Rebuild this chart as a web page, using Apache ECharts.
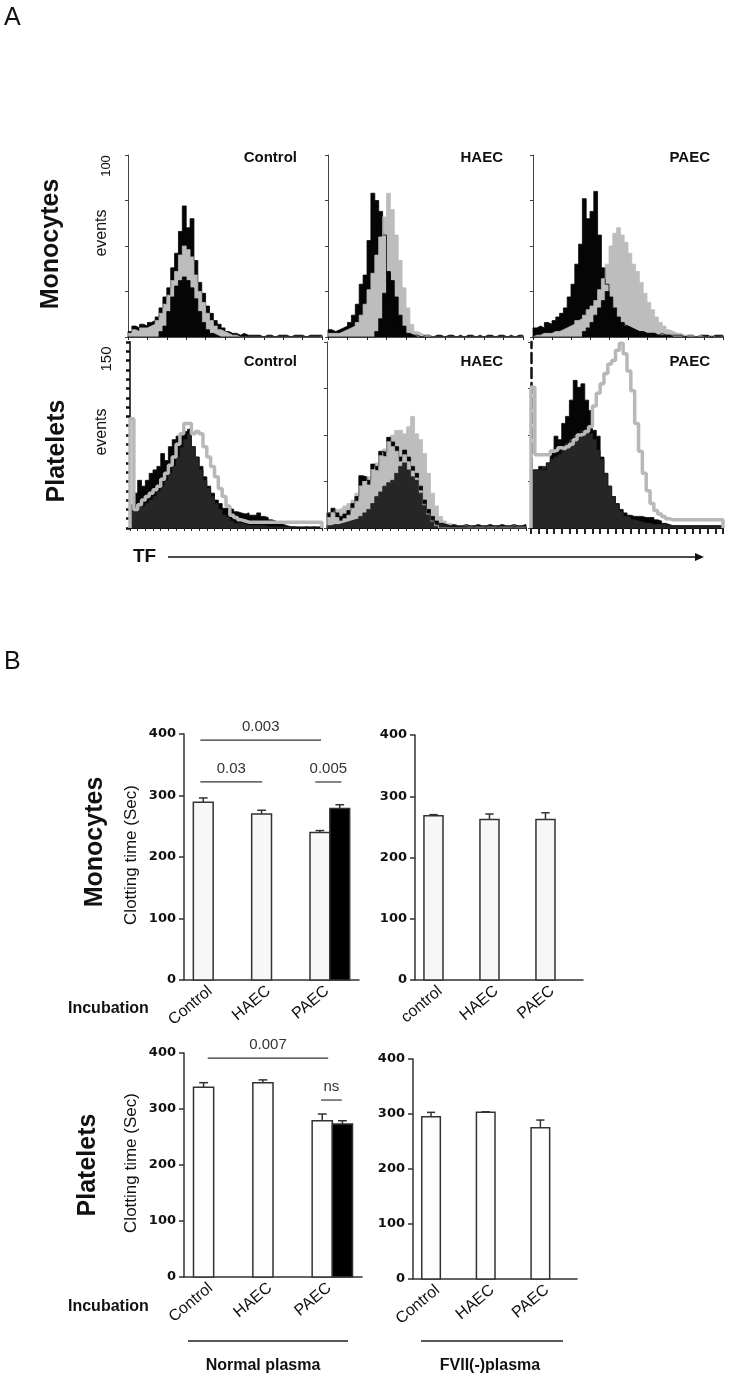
<!DOCTYPE html>
<html><head><meta charset="utf-8">
<script src="https://cdn.jsdelivr.net/npm/echarts@6/dist/echarts.min.js"></script>
<style>html,body{margin:0;padding:0;background:#fff}#c{width:750px;height:1383px}</style>
</head><body><div id="c"></div>
<script>
// ---------- Panel A: flow cytometry histograms (50 bins, events) ----------
const MONO_CTRL_BLACK = [3,6,5,7,6,8,9,11,16,22, 27,38,46,58,72,60,65,42,30,24, 17,13,9,7,5,3,2,2,1,2, 1,1,1,1,0,1,1,0,1,1, 1,0,1,1,1,0,1,1,1,1];
const MONO_CTRL_GRAY  = [2,4,3,5,5,6,7,9,13,18, 23,31,36,45,50,48,44,34,25,19, 13,9,6,4,3,2,1,1,0,0, 0,0,0,0,0,0,0,0,0,0, 0,0,0,0,0,0,0,0,0,0];
const MONO_CTRL_INNER = [0,0,0,0,0,0,0,0,3,6, 14,22,28,31,33,31,27,21,14,8, 4,2,1,0,0,0,0,0,0,0, 0,0,0,0,0,0,0,0,0,0, 0,0,0,0,0,0,0,0,0,0];

const MONO_HAEC_BLACK = [4,3,4,5,6,8,12,18,29,34, 53,79,75,69,56,35,18,8,4,2, 1,1,1,0,1,1,0,1,1,0, 1,1,0,1,0,1,1,0,1,0, 1,1,0,1,1,0,1,0,1,1];
const MONO_HAEC_GRAY  = [2,2,2,3,4,5,6,8,12,18, 26,35,45,55,66,79,70,56,42,27, 16,7,3,2,1,1,0,0,0,0, 0,0,0,0,0,0,0,0,0,0, 0,0,0,0,0,0,0,0,0,0];
const MONO_HAEC_INNER = [0,0,0,0,0,0,0,0,0,0, 0,0,3,10,24,36,31,22,12,6, 2,1,0,0,0,0,0,0,0,0, 0,0,0,0,0,0,0,0,0,0, 0,0,0,0,0,0,0,0,0,0];

const MONO_PAEC_BLACK = [5,6,5,8,7,9,11,13,16,22, 29,40,51,76,65,69,80,56,38,29, 15,10,8,7,6,5,4,3,3,2, 2,2,1,2,1,1,1,1,1,0, 1,1,0,1,1,1,0,1,1,1];
const MONO_PAEC_GRAY  = [1,1,2,2,2,3,3,4,5,6, 7,9,10,12,15,17,20,26,32,40, 50,57,60,56,52,46,40,36,30,24, 19,15,11,8,6,4,3,2,2,1, 1,1,0,1,0,0,1,0,0,0];
const MONO_PAEC_INNER = [0,0,0,0,0,0,0,0,0,0, 0,0,0,3,5,8,12,16,20,25, 22,16,11,8,6,5,4,3,3,2, 2,2,1,1,1,1,0,0,0,0, 0,0,0,0,0,0,0,0,0,0];

const PLT_CTRL_BLACK = [20,30,41,36,41,47,50,53,64,58, 70,76,79,81,83,85,70,61,53,44, 36,30,24,21,17,17,16,14,13,12, 13,11,11,13,10,9,7,6,4,3, 2,1,1,0,0,1,0,1,0,0];
const PLT_CTRL_DARK  = [17,17,18,19,21,24,27,31,36,41, 47,53,61,69,76,81,70,61,50,41, 34,27,21,16,11,9,6,4,4,3, 2,2,2,2,2,1,1,1,1,1, 1,1,1,1,1,1,1,1,1,1];
const PLT_CTRL_GRAY  = [94,16,20,24,27,30,33,36,42,47, 54,61,72,81,90,90,81,83,81,70, 61,53,44,34,27,19,11,9,7,6, 5,5,5,5,5,5,5,5,5,5, 5,5,5,5,5,5,5,5,5,5];

const PLT_HAEC_BLACK = [13,17,13,10,12,15,21,27,45,44, 41,55,53,66,65,78,74,70,61,67, 61,53,47,36,24,16,10,6,4,3, 2,3,2,2,3,2,2,3,2,2, 3,2,2,3,2,2,3,2,2,3];
const PLT_HAEC_GRAY  = [13,14,16,17,19,21,24,30,36,40, 44,50,56,62,68,74,80,84,84,81, 87,96,81,76,64,47,30,19,10,6, 4,3,2,2,2,1,2,1,1,2, 1,1,2,1,1,1,2,1,1,1];
const PLT_HAEC_DARK  = [2,3,3,4,5,6,7,8,10,13, 16,21,27,31,36,39,41,47,53,56, 50,44,41,30,21,13,7,4,3,2, 1,1,1,1,1,1,1,1,1,1, 1,1,1,1,1,1,1,1,1,1];

const PLT_PAEC_BLACK = [50,50,53,50,56,67,79,76,90,96, 110,127,121,124,110,101,84,79,61,47, 36,27,21,16,13,11,10,10,10,9, 9,9,7,6,4,3,2,2,2,2, 2,2,2,2,2,2,2,2,2,2];
const PLT_PAEC_DARK  = [50,50,50,53,56,59,61,63,70,73, 76,79,81,84,83,81,76,67,59,47, 36,27,20,14,10,9,7,6,5,4, 4,3,3,3,3,2,2,2,2,2, 2,2,2,2,2,2,2,2,2,2];
const PLT_PAEC_GRAY  = [121,63,63,63,63,66,67,69,68,70, 72,76,80,81,83,87,105,116,124,133, 141,144,153,159,150,135,118,90,66,47, 32,21,15,12,10,8,7,7,7,7, 7,7,7,7,7,7,7,7,7,7];

const HIST_TITLES = ['Control', 'HAEC', 'PAEC'];

// ---------- Panel B: clotting time (Sec) ----------
const CATS_NORMAL = ['Control', 'HAEC', 'PAEC'];
const CATS_MONO_FVII = ['control', 'HAEC', 'PAEC'];
const CATS_PLT_FVII = ['Control', 'HAEC', 'PAEC'];
const Y_TICKS = [0, 100, 200, 300, 400];

const MONO_NORMAL = [289, 270, 240];
const MONO_NORMAL_ERR = [7, 6, 3];
const MONO_NORMAL_EXTRA = [279];      // black bar beside PAEC
const MONO_NORMAL_EXTRA_ERR = [6];
const MONO_FVII = [268, 262, 262];
const MONO_FVII_ERR = [2, 9, 11];

const PLT_NORMAL = [339, 347, 279];
const PLT_NORMAL_ERR = [8, 5, 12];
const PLT_NORMAL_EXTRA = [273];
const PLT_NORMAL_EXTRA_ERR = [6];
const PLT_FVII = [295, 303, 275];
const PLT_FVII_ERR = [8, 1, 14];

const EXTRA_CAT = 'PAEC';
// significance brackets: [from, to, level]
const SIG_MONO = [[-0.05, 2.02, 390], [-0.05, 1.01, 322], [1.92, 2.37, 322]];
const SIG_MONO_TEXT = ['0.003', '0.03', '0.005'];
const SIG_PLT = [[0.07, 2.1, 391], [1.98, 2.33, 316]];
const SIG_PLT_TEXT = ['0.007', 'ns'];

// ---------- build ----------
const FONT = '"Liberation Sans", Arial, Helvetica, sans-serif';
const chart = echarts.init(document.getElementById('c'), null, {renderer: 'canvas'});

function stepData(vals) {
  const d = [[0, 0]];
  vals.forEach((v, i) => d.push([i, v]));
  d.push([vals.length, vals[vals.length - 1]]);
  d.push([vals.length, 0]);
  return d;
}

const grids = [], xAxes = [], yAxes = [], series = [];

const histGrids = [
  {left: 128, top: 155, width: 194, height: 182, ymax: 100},
  {left: 328, top: 155, width: 195, height: 182, ymax: 100},
  {left: 533, top: 155, width: 190, height: 182, ymax: 100},
  {left: 130, top: 342, width: 192, height: 186, ymax: 160},
  {left: 327, top: 342, width: 199, height: 186, ymax: 160},
  {left: 531, top: 342, width: 192, height: 186, ymax: 160}
];
histGrids.forEach((g, i) => {
  grids.push({left: g.left, top: g.top, width: g.width, height: g.height, containLabel: false, outerBoundsMode: 'none'});
  const plt = i >= 3;
  const yTick = (i === 3) ? {show: true, length: 4, lineStyle: {color: '#111', width: 2.5}} :
                {show: true, length: 3, lineStyle: {color: '#444', width: 1}};
  xAxes.push({gridIndex: i, type: 'value', min: 0, max: 50, interval: (plt ? 2 : 5),
    axisLine: {show: true, onZero: false, lineStyle: {color: '#111', width: plt ? 2 : 1.5}},
    axisTick: {show: true, length: i === 5 ? 6 : 3, lineStyle: {color: '#222', width: i === 5 ? 2 : 1}},
    axisLabel: {show: false}, splitLine: {show: false}});
  yAxes.push({gridIndex: i, type: 'value', min: 0, max: g.ymax, interval: (i === 3 ? 8 : (plt ? 40 : 25)),
    axisLine: {show: true, onZero: false, lineStyle: {color: i === 5 ? '#111' : '#444', width: i === 5 ? 2.5 : (i === 3 ? 2 : 1), type: i === 5 ? 'dashed' : 'solid'}},
    axisTick: yTick, axisLabel: {show: false}, splitLine: {show: false}});
});

function hist(gi, vals, color, line) {
  const s = {type: 'line', xAxisIndex: gi, yAxisIndex: gi, data: stepData(vals), step: 'end',
    symbol: 'none', silent: true, animation: false};
  if (line) {
    s.lineStyle = {color: color, width: 3.5};
  } else {
    s.lineStyle = {color: color, width: 0.8};
    s.areaStyle = {color: color, opacity: 1};
  }
  return s;
}
const BLK = '#050505', GRY = '#bdbdbd', DRK = '#262626';
series.push(hist(0, MONO_CTRL_BLACK, BLK), hist(0, MONO_CTRL_GRAY, GRY), hist(0, MONO_CTRL_INNER, BLK));
series.push(hist(1, MONO_HAEC_BLACK, BLK), hist(1, MONO_HAEC_GRAY, GRY), hist(1, MONO_HAEC_INNER, BLK));
series.push(hist(2, MONO_PAEC_BLACK, BLK), hist(2, MONO_PAEC_GRAY, GRY), hist(2, MONO_PAEC_INNER, BLK));
series.push(hist(3, PLT_CTRL_BLACK, BLK), hist(3, PLT_CTRL_DARK, DRK), hist(3, PLT_CTRL_GRAY, '#b8b8b8', true));
series.push(hist(4, PLT_HAEC_GRAY, GRY), hist(4, PLT_HAEC_BLACK, BLK),
  hist(4, PLT_HAEC_GRAY.map((v, k) => Math.min(v, Math.max(PLT_HAEC_BLACK[k] - 4, 0))), GRY), hist(4, PLT_HAEC_DARK, DRK));
series.push(hist(5, PLT_PAEC_BLACK, BLK), hist(5, PLT_PAEC_DARK, DRK), hist(5, PLT_PAEC_GRAY, '#b8b8b8', true));

// bar charts
const barGrids = [
  {left: 184, top: 734, width: 175, height: 246, cats: CATS_NORMAL},
  {left: 415, top: 735, width: 168, height: 245, cats: CATS_MONO_FVII},
  {left: 184, top: 1053, width: 178, height: 224, cats: CATS_NORMAL},
  {left: 413, top: 1059, width: 164, height: 220, cats: CATS_PLT_FVII}
];
const LABEL_SHIFT = 0.12;
barGrids.forEach((g, k) => {
  const gi = 6 + k;
  grids.push({left: g.left, top: g.top, width: g.width, height: g.height, containLabel: false, outerBoundsMode: 'none'});
  xAxes.push({gridIndex: gi, type: 'value', min: -0.33, max: 2.67,
    axisLine: {show: true, onZero: false, lineStyle: {color: '#333', width: 1.5}},
    axisTick: {show: false}, splitLine: {show: false},
    axisLabel: {show: true, customValues: g.cats.map((c, i) => i + LABEL_SHIFT), formatter: v => g.cats[Math.round(v)],
      rotate: 40, fontSize: 16, fontFamily: FONT, color: '#111', margin: 9}});
  yAxes.push({gridIndex: gi, type: 'value', min: Y_TICKS[0], max: Y_TICKS[Y_TICKS.length - 1], interval: Y_TICKS[1] - Y_TICKS[0],
    axisLine: {show: true, onZero: false, lineStyle: {color: '#333', width: 1.5}},
    axisTick: {show: true, length: 5, lineStyle: {color: '#333', width: 1.5}},
    splitLine: {show: false},
    axisLabel: {fontFamily: '"DejaVu Sans", sans-serif', fontWeight: 'bold', fontSize: 13, color: '#111', margin: 8}});
});

const BAR_UNITS = 0.34;
function bars(gi, vals, errs, cats, shift, fill, catName) {
  const xs = vals.map((v, i) => catName ? cats.indexOf(catName) : i);
  const data = vals.map((v, i) => [xs[i], v]);
  return {type: 'custom', xAxisIndex: gi, yAxisIndex: gi, data: data, silent: true, animation: false,
    encode: {x: 0, y: 1},
    renderItem: function (params, api) {
      const i = params.dataIndex;
      const x = xs[i], y = vals[i], e = errs[i];
      const w = api.size([BAR_UNITS, 0])[0];
      const base = api.coord([x, 0]);
      const top = api.coord([x, y]);
      const et = api.coord([x, y + e]);
      const cx = base[0] + shift * w;
      return {type: 'group', children: [
        {type: 'polyline', shape: {points: [[cx, top[1]], [cx, et[1]]]}, style: {stroke: '#333', lineWidth: 1.5, fill: null}},
        {type: 'polyline', shape: {points: [[cx - w * 0.22, et[1]], [cx + w * 0.22, et[1]]]}, style: {stroke: '#333', lineWidth: 1.5, fill: null}},
        {type: 'rect', shape: {x: cx - w / 2, y: top[1], width: w, height: base[1] - top[1]},
          style: {fill: fill, stroke: '#333', lineWidth: 1.5}}
      ]};
    }};
}
function sig(gi, arr, texts) {
  return {type: 'custom', xAxisIndex: gi, yAxisIndex: gi, data: arr.map(r => [r[0], r[2]]), silent: true, animation: false,
    encode: {x: 0, y: 1},
    renderItem: function (params, api) {
      const r = arr[params.dataIndex];
      const a = api.coord([r[0], r[2]]);
      const b = api.coord([r[1], r[2]]);
      return {type: 'group', children: [
        {type: 'polyline', shape: {points: [[a[0], a[1]], [b[0], b[1]]]}, style: {stroke: '#333', lineWidth: 1.2, fill: null}},
        {type: 'text', x: (a[0] + b[0]) / 2, y: a[1] - 13,
          style: {text: texts[params.dataIndex], align: 'center', verticalAlign: 'middle', font: '15px ' + FONT, fill: '#333'}}
      ]};
    }};
}
series.push(bars(6, MONO_NORMAL, MONO_NORMAL_ERR, CATS_NORMAL, 0, '#f7f7f7'));
series.push(bars(6, MONO_NORMAL_EXTRA, MONO_NORMAL_EXTRA_ERR, CATS_NORMAL, 1, '#000', EXTRA_CAT));
series.push(sig(6, SIG_MONO, SIG_MONO_TEXT));
series.push(bars(7, MONO_FVII, MONO_FVII_ERR, CATS_MONO_FVII, 0, '#f7f7f7'));
series.push(bars(8, PLT_NORMAL, PLT_NORMAL_ERR, CATS_NORMAL, 0, '#fdfdfd'));
series.push(bars(8, PLT_NORMAL_EXTRA, PLT_NORMAL_EXTRA_ERR, CATS_NORMAL, 1, '#000', EXTRA_CAT));
series.push(sig(8, SIG_PLT, SIG_PLT_TEXT));
series.push(bars(9, PLT_FVII, PLT_FVII_ERR, CATS_PLT_FVII, 0, '#fdfdfd'));

// text & decorations
function txt(text, x, y, font, extra) {
  const e = {type: 'text', x: x, y: y, silent: true,
    style: {text: text, font: font, fill: '#111', align: 'center', verticalAlign: 'middle'}};
  if (extra) Object.assign(e.style, extra.style || {});
  if (extra && extra.rotation) e.rotation = extra.rotation;
  return e;
}
const R = {rotation: Math.PI / 2};
const graphics = [
  txt('A', 4, 18, '25px ' + FONT, {style: {align: 'left'}}),
  txt('B', 4, 662, '25px ' + FONT, {style: {align: 'left'}}),
  txt('Monocytes', 51, 244, 'bold 25px ' + FONT, R),
  txt('Platelets', 57, 451, 'bold 25px ' + FONT, R),
  txt('100', 106, 166, '13px ' + FONT, R),
  txt('events', 102, 233, '16px ' + FONT, R),
  txt('150', 107, 359, '15px ' + FONT, R),
  txt('events', 102, 432, '16px ' + FONT, R),
  txt('TF', 133, 557, 'bold 19px ' + FONT, {style: {align: 'left'}}),
  {type: 'line', silent: true, shape: {x1: 168, y1: 557, x2: 697, y2: 557}, style: {stroke: '#111', lineWidth: 1.5}},
  {type: 'polygon', silent: true, shape: {points: [[704, 557], [695, 553], [695, 561]]}, style: {fill: '#111'}},
  txt('Monocytes', 95, 842, 'bold 25px ' + FONT, R),
  txt('Platelets', 88, 1165, 'bold 25px ' + FONT, R),
  txt('Clotting time (Sec)', 131, 855, '17px ' + FONT, R),
  txt('Clotting time (Sec)', 131, 1163, '17px ' + FONT, R),
  txt('Incubation', 68, 1009, 'bold 16px ' + FONT, {style: {align: 'left'}}),
  txt('Incubation', 68, 1307, 'bold 16px ' + FONT, {style: {align: 'left'}}),
  {type: 'line', silent: true, shape: {x1: 188, y1: 1341, x2: 348, y2: 1341}, style: {stroke: '#222', lineWidth: 1.5}},
  {type: 'line', silent: true, shape: {x1: 421, y1: 1341, x2: 563, y2: 1341}, style: {stroke: '#222', lineWidth: 1.5}},
  txt('Normal plasma', 263, 1366, 'bold 16px ' + FONT),
  txt('FVII(-)plasma', 490, 1366, 'bold 16px ' + FONT)
];
const titleX = [297, 503, 710];
[158, 362].forEach(y => HIST_TITLES.forEach((t, k) => {
  graphics.push(txt(t, titleX[k], y, 'bold 15px ' + FONT, {style: {align: 'right'}}));
}));

chart.setOption({
  animation: false,
  backgroundColor: '#ffffff',
  grid: grids, xAxis: xAxes, yAxis: yAxes, series: series,
  graphic: {elements: graphics}
});
</script></body></html>
